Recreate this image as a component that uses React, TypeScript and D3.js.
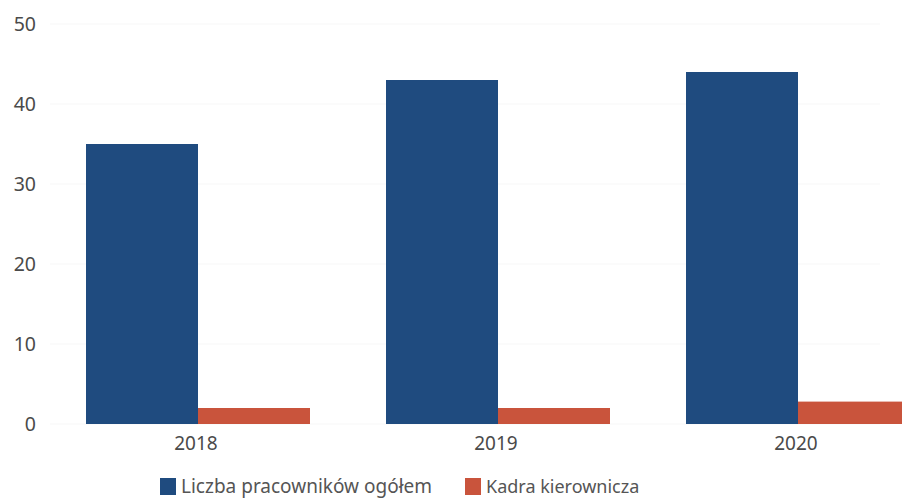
import React from "react";
import * as d3 from "d3";

const categories = ["2018", "2019", "2020"];
const seriesNames = ["Liczba pracowników ogółem", "Kadra kierownicza"];
const totalValues = [35, 43, 44];
const managerValues = [2, 2, 2.8];
const yTicks = [0, 10, 20, 30, 40, 50];
const colors = ["#1f4b7f", "#c9543c"];

export default function App() {
  const W = 902, H = 498;
  const y = d3.scaleLinear().domain([0, 50]).range([424, 24]);
  const x = d3.scaleBand().domain(categories).range([48, 948]).padding(0);
  const inner = d3.scaleBand().domain(["a", "b"]).range([38, 262]).padding(0);
  const font = "'Noto Sans', 'Open Sans', sans-serif";
  const series = [totalValues, managerValues];
  return (
    <svg width={W} height={H} style={{ position: "absolute", left: 0, top: 0, background: "#fff" }}>
      {yTicks.map((t) => (
        <g key={t}>
          <line x1={50} x2={880} y1={y(t)} y2={y(t)} stroke="#f7f7f7" />
          <text x={36} y={y(t)} dy="0.35em" textAnchor="end" fontFamily={font} fontSize={19.5} fill="#4a4a4a">{t}</text>
        </g>
      ))}
      {categories.map((c, i) => (
        <g key={c} transform={`translate(${x(c)},0)`}>
          {series.map((s, j) => (
            <rect key={j} x={inner(j === 0 ? "a" : "b")} width={inner.bandwidth()} y={y(s[i])} height={y(0) - y(s[i])} fill={colors[j]} />
          ))}
          <text x={148} y={450} textAnchor="middle" fontFamily={font} fontSize={19} fill="#4a4a4a">{c}</text>
        </g>
      ))}
      <g>
        <rect x={160} y={478} width={16} height={17} fill={colors[0]} />
        <text x={181} y={493} fontFamily={font} fontSize={19} fill="#555">{seriesNames[0]}</text>
        <rect x={465} y={478} width={16} height={17} fill={colors[1]} />
        <text x={486} y={493} fontFamily={font} fontSize={18} fill="#555">{seriesNames[1]}</text>
      </g>
    </svg>
  );
}
